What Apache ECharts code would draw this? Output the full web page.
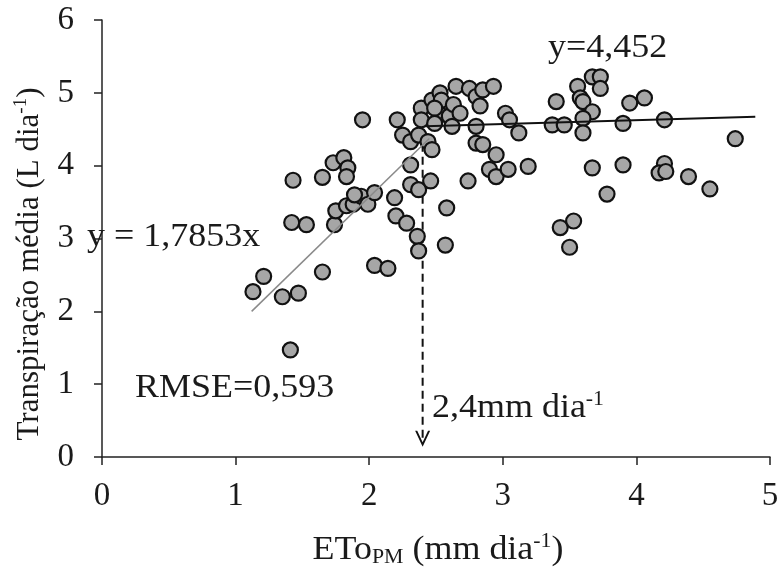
<!DOCTYPE html>
<html>
<head>
<meta charset="utf-8">
<script src="https://cdn.jsdelivr.net/npm/echarts@6/dist/echarts.min.js"></script>
<style>
  html, body { margin: 0; padding: 0; background: #fff; }
  #chart { width: 781px; height: 567px; }
</style>
</head>
<body>
<div id="chart"></div>
<script>
// ETo PM (mm dia-1) x transpiração média (L dia-1)
var etoValues = [
    1.13, 1.21, 1.35, 1.47, 1.41, 1.43, 1.42, 1.53, 1.65, 1.65,
    1.74, 1.75, 1.73, 1.81, 1.84, 1.83, 1.83, 1.88, 1.94, 1.89,
    1.99, 2.04, 1.95, 2.04, 2.14, 2.19, 2.20, 2.28, 2.36, 2.37,
    2.57, 2.58, 2.31, 2.31, 2.37, 2.46, 2.21, 2.25, 2.31, 2.37,
    2.39, 2.39, 2.44, 2.47, 2.47, 2.53, 2.54, 2.53, 2.49, 2.49,
    2.60, 2.63, 2.65, 2.68, 2.62, 2.75, 2.80, 2.85, 2.93, 2.83,
    2.80, 2.80, 2.85, 2.74, 2.95, 2.90, 2.95, 3.04, 3.19, 3.02,
    3.05, 3.12, 3.40, 3.37, 3.46, 3.56, 3.58, 3.60, 3.67, 3.60,
    3.60, 3.67, 3.73, 3.73, 3.90, 3.95, 4.06, 4.21, 4.74, 3.67,
    3.90, 4.21, 4.17, 4.22, 4.39, 4.55, 3.78, 3.43, 3.53, 3.50
];
var transpValues = [
    2.27, 2.48, 2.20, 2.25, 1.47, 3.80, 3.22, 3.19, 3.84, 2.54,
    3.19, 3.38, 4.04, 4.11, 3.97, 3.85, 3.45, 3.47, 3.58, 3.60,
    3.47, 3.63, 4.63, 2.63, 2.59, 3.56, 3.31, 3.21, 3.03, 2.83,
    2.91, 3.42, 4.01, 3.74, 3.67, 3.79, 4.63, 4.42, 4.33, 4.42,
    4.79, 4.63, 4.33, 4.22, 4.90, 5.00, 4.90, 4.70, 4.79, 4.58,
    4.68, 4.84, 5.09, 4.72, 4.54, 5.06, 4.95, 5.04, 5.09, 4.82,
    4.54, 4.31, 4.29, 3.79, 4.15, 3.95, 3.85, 3.95, 3.99, 4.72,
    4.63, 4.45, 4.88, 4.56, 4.56, 5.09, 4.93, 4.88, 4.74, 4.65,
    4.45, 5.22, 5.22, 5.06, 4.58, 4.86, 4.93, 4.63, 4.37, 3.97,
    4.01, 4.03, 3.90, 3.92, 3.85, 3.68, 3.61, 3.15, 3.24, 2.88
];

// ajustes
var linearSlope = 1.7853;           // y = 1,7853x
var linearRangeX = [1.12, 2.45];
var plateauLineX = [2.42, 4.89];    // y = 4,452
var plateauLineY = [4.54, 4.67];
var breakPointX = 2.4;              // 2,4 mm dia-1
var breakArrowY = [4.3, 0.25];

var xTicks = [0, 1, 2, 3, 4, 5];
var yTicks = [0, 1, 2, 3, 4, 5, 6];

var serif = '"Liberation Serif", "Times New Roman", serif';
var txtColor = '#1a1a1a';
var stretch = 1.09; // o texto do original é um pouco mais largo

var scatterData = etoValues.map(function (x, i) { return [x, transpValues[i]]; });
var linearData = linearRangeX.map(function (x) { return [x, linearSlope * x]; });
var plateauData = plateauLineX.map(function (x, i) { return [x, plateauLineY[i]]; });

var chart = echarts.init(document.getElementById('chart'));
var option = {
    animation: false,
    backgroundColor: '#fff',
    grid: { left: 102, right: 11, top: 20, bottom: 110, outerBoundsMode: 'none', containLabel: false },
    xAxis: {
        type: 'value',
        min: xTicks[0],
        max: xTicks[xTicks.length - 1],
        interval: 1,
        axisLine: { onZero: false, lineStyle: { color: '#222', width: 1.5 } },
        axisTick: { show: true, inside: false, length: 8, lineStyle: { color: '#222', width: 1.5 } },
        axisLabel: { fontFamily: serif, fontSize: 33, color: txtColor, margin: 23 },
        splitLine: { show: false }
    },
    yAxis: {
        type: 'value',
        min: yTicks[0],
        max: yTicks[yTicks.length - 1],
        interval: 1,
        axisLine: { show: true, onZero: false, lineStyle: { color: '#222', width: 1.5 } },
        axisTick: { show: true, inside: false, length: 8, lineStyle: { color: '#222', width: 1.5 } },
        axisLabel: { fontFamily: serif, fontSize: 33, color: txtColor, margin: 28 },
        splitLine: { show: false }
    },
    series: [
        {
            name: 'seta',
            type: 'line',
            z: 1,
            data: [
                { value: [breakPointX, breakArrowY[0]], symbol: 'none' },
                {
                    value: [breakPointX, breakArrowY[1]],
                    symbol: 'path://M0,0 L5,10 L10,0 L8.6,0 L5,7.2 L1.4,0 Z',
                    symbolSize: [15, 16],
                    symbolKeepAspect: false
                }
            ],
            showSymbol: true,
            itemStyle: { color: '#111' },
            lineStyle: { color: '#111', width: 2, type: [8, 5] }
        },
        {
            name: 'dados',
            type: 'scatter',
            z: 2,
            symbol: 'circle',
            symbolSize: 15,
            itemStyle: { color: '#a6a6a6', borderColor: '#111', borderWidth: 2.2, opacity: 1 },
            data: scatterData
        },
        {
            name: 'linear',
            type: 'line',
            z: 3,
            symbol: 'none',
            lineStyle: { color: '#8a8a8a', width: 1.5 },
            data: linearData
        },
        {
            name: 'plateau',
            type: 'line',
            z: 3,
            symbol: 'none',
            lineStyle: { color: '#111', width: 2 },
            data: plateauData
        }
    ],
    graphic: [
        {
            type: 'text', z: 10, x: 548, y: 48, scaleX: stretch,
            style: { text: 'y=4,452', font: '33px ' + serif, fill: txtColor, verticalAlign: 'middle' }
        },
        {
            type: 'text', z: 10, x: 87, y: 237, scaleX: stretch,
            style: { text: 'y = 1,7853x', font: '33px ' + serif, fill: txtColor, verticalAlign: 'middle' }
        },
        {
            type: 'text', z: 10, x: 135, y: 388, scaleX: stretch,
            style: { text: 'RMSE=0,593', font: '33px ' + serif, fill: txtColor, verticalAlign: 'middle' }
        },
        {
            type: 'text', z: 10, x: 432, y: 408, scaleX: stretch,
            style: {
                text: '2,4mm dia{sup|-1}',
                font: '33px ' + serif, fill: txtColor, verticalAlign: 'middle',
                lineHeight: 36,
                rich: {
                    sup: { font: '20px ' + serif, fill: txtColor, verticalAlign: 'top', lineHeight: 20 }
                }
            }
        },
        {
            type: 'text', z: 10, x: 438, y: 550, scaleX: stretch,
            style: {
                text: 'ETo{sub|PM} (mm dia{sup|-1})',
                font: '33px ' + serif, fill: txtColor, align: 'center', verticalAlign: 'middle',
                lineHeight: 36,
                rich: {
                    sub: { font: '20px ' + serif, fill: txtColor, verticalAlign: 'bottom', lineHeight: 30 },
                    sup: { font: '20px ' + serif, fill: txtColor, verticalAlign: 'top', lineHeight: 20 }
                }
            }
        },
        {
            type: 'text', z: 10, x: 30, y: 264, rotation: Math.PI / 2,
            style: {
                text: 'Transpiração média (L dia{sup|-1})',
                font: '31px ' + serif, fill: txtColor, align: 'center', verticalAlign: 'middle',
                lineHeight: 36,
                rich: {
                    sup: { font: '19px ' + serif, fill: txtColor, verticalAlign: 'top', lineHeight: 19 }
                }
            }
        }
    ]
};
chart.setOption(option);
window.addEventListener('resize', function () {
    chart.resize();
});
</script>
</body>
</html>
